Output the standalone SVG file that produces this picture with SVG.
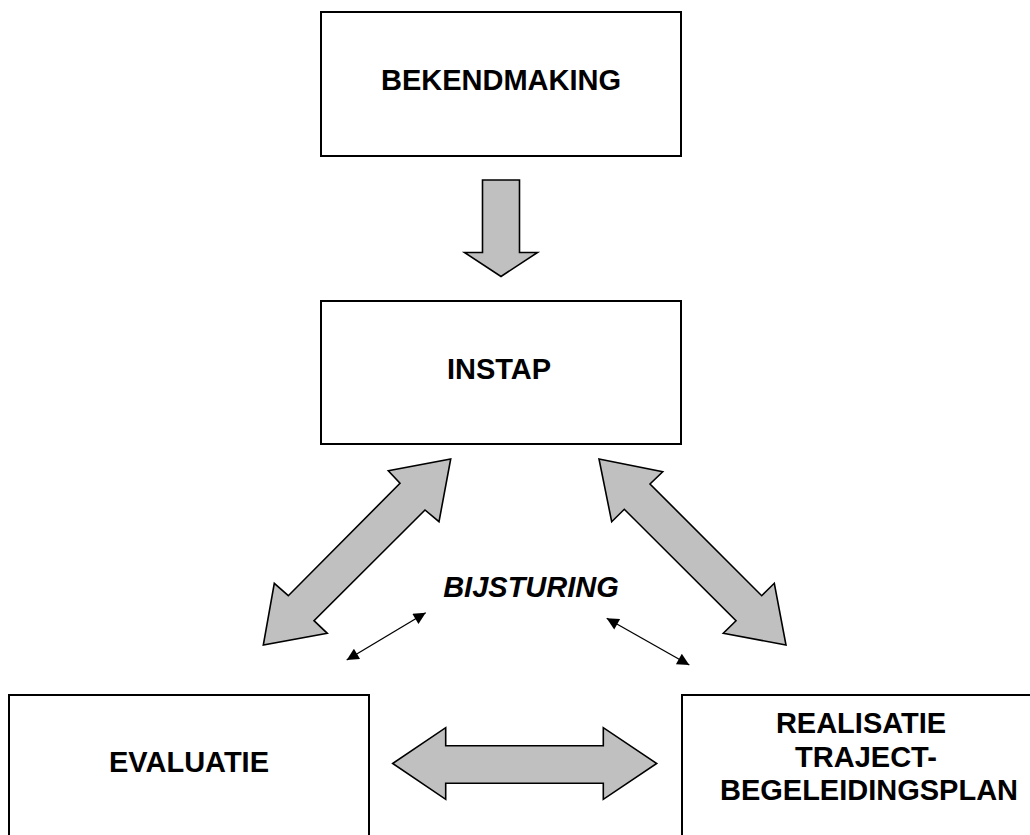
<svg xmlns="http://www.w3.org/2000/svg" width="1030" height="835" viewBox="0 0 1030 835">
<style>
.box{fill:#fff;stroke:#000;stroke-width:2}
.lbl{font-family:"Liberation Sans",Arial,sans-serif;font-weight:bold;font-size:29px;fill:#000;text-anchor:middle}
.blk{fill:#c0c0c0;stroke:#000;stroke-width:1.6;stroke-linejoin:miter}
.thin{stroke:#000;stroke-width:1.3;fill:none;marker-start:url(#ah);marker-end:url(#ah)}
</style>
<defs>
<marker id="ah" viewBox="0 0 10 10" refX="10" refY="5" markerWidth="16" markerHeight="12" markerUnits="userSpaceOnUse" orient="auto-start-reverse">
<path d="M0,0 L10,5 L0,10 z" fill="#000"/>
</marker>
</defs>
<rect width="1030" height="835" fill="#fff"/>
<g id="bekendmaking">
<rect class="box" x="321" y="12" width="360" height="144"/>
<text class="lbl" x="501" y="90">BEKENDMAKING</text>
</g>
<g id="instap">
<rect class="box" x="321" y="301" width="360" height="143"/>
<text class="lbl" x="499" y="378.5">INSTAP</text>
</g>
<g id="evaluatie">
<rect class="box" x="9" y="695" width="360" height="150"/>
<text class="lbl" x="189" y="772">EVALUATIE</text>
</g>
<g id="realisatie">
<rect class="box" x="682" y="695" width="360" height="150"/>
<text class="lbl" x="861" y="733">REALISATIE</text>
<text class="lbl" x="866" y="767">TRAJECT-</text>
<text class="lbl" x="869" y="800">BEGELEIDINGSPLAN</text>
</g>
<g id="bijsturing">
<text class="lbl" x="531" y="597" font-style="italic">BIJSTURING</text>
</g>
<g id="connectors">
<polygon class="blk" points="482.5,180 519.5,180 519.5,252.5 537.5,252.5 501,276.5 464.5,252.5 482.5,252.5"/>
<polygon class="blk" points="450.7,459 439,521.7 425,510 314,620.7 327.3,633.3 263.3,645 274.3,583.3 288.3,595.7 400,483.3 388.3,470.7"/>
<polygon class="blk" points="599,459 662.7,471.7 650,484 761.7,595.7 774.3,583.3 786,645 723.3,633.3 736,620.7 624.3,509.3 611.7,521.7"/>
<polygon class="blk" points="392.7,763.5 445.7,727.7 445.7,745.7 603.3,745.7 603.3,727.7 656.7,763.5 603.3,799.3 603.3,783.3 445.7,783.3 445.7,799.3"/>
<line class="thin" x1="346.7" y1="660" x2="425.7" y2="612.7"/>
<line class="thin" x1="606.7" y1="618.3" x2="689.3" y2="665"/>
</g>
</svg>
